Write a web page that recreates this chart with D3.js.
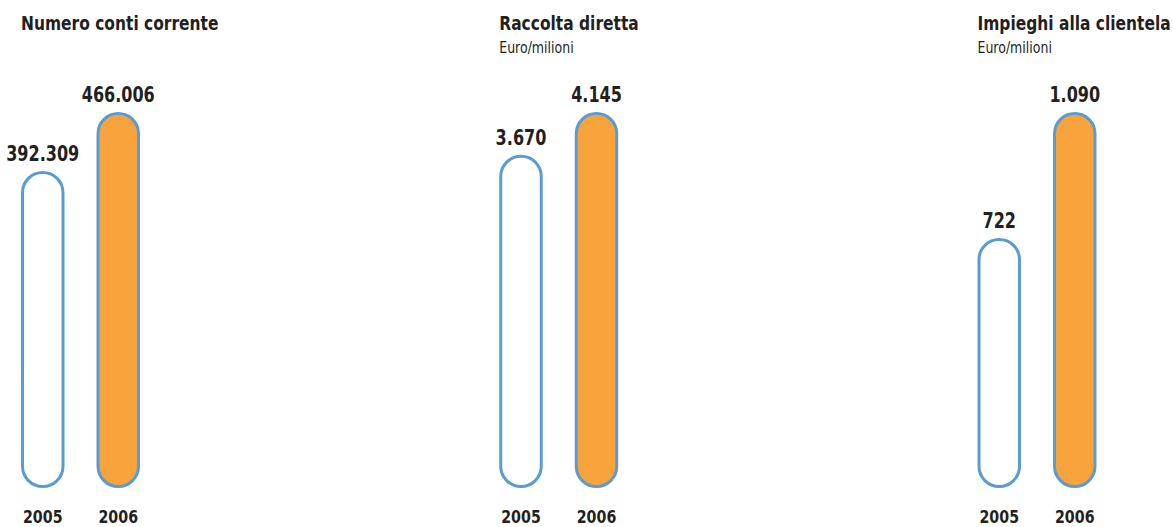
<!DOCTYPE html>
<html>
<head>
<meta charset="utf-8">
<script src="https://cdn.jsdelivr.net/npm/d3@7"></script>
<style>
  body { margin: 0; background: #fff; }
  svg text { font-family: "DejaVu Sans Condensed", "DejaVu Sans", sans-serif; fill: #231f20; }
  .title { font-weight: bold; font-size: 20px; }
  .sub { font-size: 15px; }
  .val { font-weight: bold; font-size: 21px; }
  .year { font-weight: bold; font-size: 17px; }
</style>
</head>
<body>
<div id="chart"></div>
<script>
var panelTitles = ["Numero conti corrente", "Raccolta diretta", "Impieghi alla clientela"];
var panelSubtitles = ["", "Euro/milioni", "Euro/milioni"];
var years = ["2005", "2006"];
var values2005 = [392309, 3670, 722];
var values2006 = [466006, 4145, 1090];

var width = 1173, height = 527;
var barW = 44, strokeW = 3;
var it = d3.formatLocale({decimal: ",", thousands: ".", grouping: [3], currency: ["€", ""]});
var fmt = it.format(",d");

var svg = d3.select("#chart").append("svg")
    .attr("width", width)
    .attr("height", height);

// panel left edges
var px = d3.scalePoint().domain(d3.range(panelTitles.length)).range([21, 977.5]);
// bars inside a panel
var x = d3.scaleBand().domain(years).range([0, 119]).paddingInner(0.424).paddingOuter(0);

// condensed look: squeeze text horizontally
function place(sel, fx, fy, sx) {
  sel.attr("transform", function(d, j) {
    return "translate(" + fx(d, j) + "," + fy(d, j) + ") scale(" + sx + ",1)";
  });
}

panelTitles.forEach(function(title, i) {
  var g = svg.append("g").attr("transform", "translate(" + px(i) + ",0)");
  var vals = [values2005[i], values2006[i]];
  var y = d3.scaleLinear().domain([0, d3.max(vals)]).range([486.5, 113.5]);

  g.append("text").attr("class", "title")
    .attr("transform", "translate(0,30) scale(0.86,1)")
    .text(title);
  if (panelSubtitles[i]) {
    g.append("text").attr("class", "sub")
      .attr("transform", "translate(0,53) scale(0.93,1)")
      .text(panelSubtitles[i]);
  }

  var w = x.bandwidth() - strokeW;
  g.selectAll(".bar")
    .data(vals)
    .enter().append("rect")
      .attr("class", "bar")
      .attr("x", function(d, j) { return x(years[j]) + strokeW / 2; })
      .attr("y", function(d) { return y(d); })
      .attr("width", w)
      .attr("height", function(d) { return y(0) - y(d); })
      .attr("rx", w / 2)
      .attr("ry", w / 2)
      .attr("fill", function(d, j) { return j === 0 ? "#ffffff" : "#f8a33c"; })
      .attr("stroke", "#5b9bd5")
      .attr("stroke-width", strokeW);

  g.selectAll(".val")
    .data(vals)
    .enter().append("text")
      .attr("class", "val")
      .attr("text-anchor", "middle")
      .call(place,
        function(d, j) { return x(years[j]) + x.bandwidth() / 2; },
        function(d) { return y(d) - strokeW / 2 - 10; }, 0.85)
      .text(function(d) { return fmt(d); });

  g.selectAll(".year")
    .data(years)
    .enter().append("text")
      .attr("class", "year")
      .attr("text-anchor", "middle")
      .call(place,
        function(d) { return x(d) + x.bandwidth() / 2; },
        function() { return 523; }, 0.93)
      .text(function(d) { return d; });
});
</script>
</body>
</html>
